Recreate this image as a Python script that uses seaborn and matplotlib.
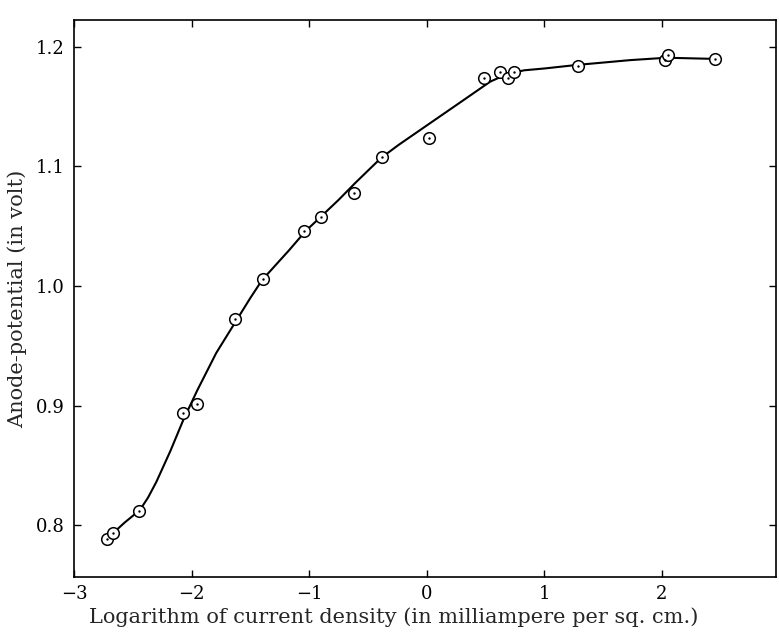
import matplotlib
matplotlib.use("Agg")
import matplotlib.pyplot as plt
import seaborn as sns
import pandas as pd

# Measured points (log current density, anode potential)
log_current = [-2.72, -2.67, -2.45, -2.07, -1.95, -1.63, -1.39, -1.04, -0.90, -0.62,
               -0.38, 0.02, 0.49, 0.62, 0.69, 0.74, 1.29, 2.03, 2.05, 2.45]
anode_potential = [0.788, 0.793, 0.812, 0.894, 0.901, 0.972, 1.006, 1.046, 1.058, 1.078,
                   1.108, 1.124, 1.174, 1.179, 1.174, 1.179, 1.184, 1.189, 1.193, 1.190]

# Hand-drawn smooth curve
curve_x = [-2.72, -2.67, -2.57, -2.44, -2.37, -2.30, -2.18, -2.07, -1.95, -1.79,
           -1.62, -1.50, -1.40, -1.17, -1.03, -0.90, -0.75, -0.61, -0.39, -0.24,
           0.04, 0.32, 0.54, 0.62, 0.69, 0.76, 0.83, 1.00, 1.28, 1.73, 2.04, 2.46]
curve_y = [0.789, 0.793, 0.802, 0.8125, 0.823, 0.836, 0.862, 0.888, 0.913, 0.944,
           0.971, 0.990, 1.005, 1.030, 1.046, 1.058, 1.072, 1.086, 1.107, 1.118,
           1.137, 1.156, 1.171, 1.1745, 1.177, 1.179, 1.1805, 1.182, 1.185, 1.189, 1.191, 1.190]

x_ticks = [-3, -2, -1, 0, 1, 2]
y_ticks = [0.8, 0.9, 1.0, 1.1, 1.2]
y_tick_labels = ["0.8", "0.9", "1.0", "1.1", "1.2"]

pts = pd.DataFrame({"x": log_current, "y": anode_potential})
crv = pd.DataFrame({"x": curve_x, "y": curve_y})

sns.set_theme(style="ticks")
plt.rcParams["font.family"] = ["DejaVu Serif"]
plt.rcParams["axes.unicode_minus"] = True

fig = plt.figure(figsize=(7.79, 6.34), dpi=100)
ax = fig.add_axes([0.095, 0.0899, 0.901, 0.8786])

sns.lineplot(data=crv, x="x", y="y", ax=ax, color="black", linewidth=1.5,
             sort=False, estimator=None, zorder=2)
sns.scatterplot(data=pts, x="x", y="y", ax=ax, marker="o", s=70,
                facecolor="white", edgecolor="black", linewidth=1.1, zorder=3)
sns.scatterplot(data=pts, x="x", y="y", ax=ax, marker="o", s=3,
                color="black", edgecolor="black", linewidth=0, zorder=4)

ax.set_xlim(-3.0, 2.97)
ax.set_ylim(0.7565, 1.2226)
ax.set_xticks(x_ticks)
ax.set_xticklabels([str(t).replace("-", "\u2212") for t in x_ticks])
ax.set_yticks(y_ticks)
ax.set_yticklabels(y_tick_labels)

ax.tick_params(axis="both", direction="in", length=5, width=1.0, colors="black",
               labelsize=13, top=True, right=True)
ax.tick_params(axis="y", pad=7)
ax.tick_params(axis="x", pad=6)

for s in ax.spines.values():
    s.set_visible(True)
    s.set_linewidth(1.2)
    s.set_color("black")

ax.set_xlabel("Logarithm of current density (in milliampere per sq. cm.)", fontsize=15,
              labelpad=3)
ax.xaxis.set_label_coords(0.455, -0.055)
ax.set_ylabel("Anode-potential (in volt)", fontsize=15, labelpad=6)

fig.savefig("out.png", dpi=100, facecolor="white")
